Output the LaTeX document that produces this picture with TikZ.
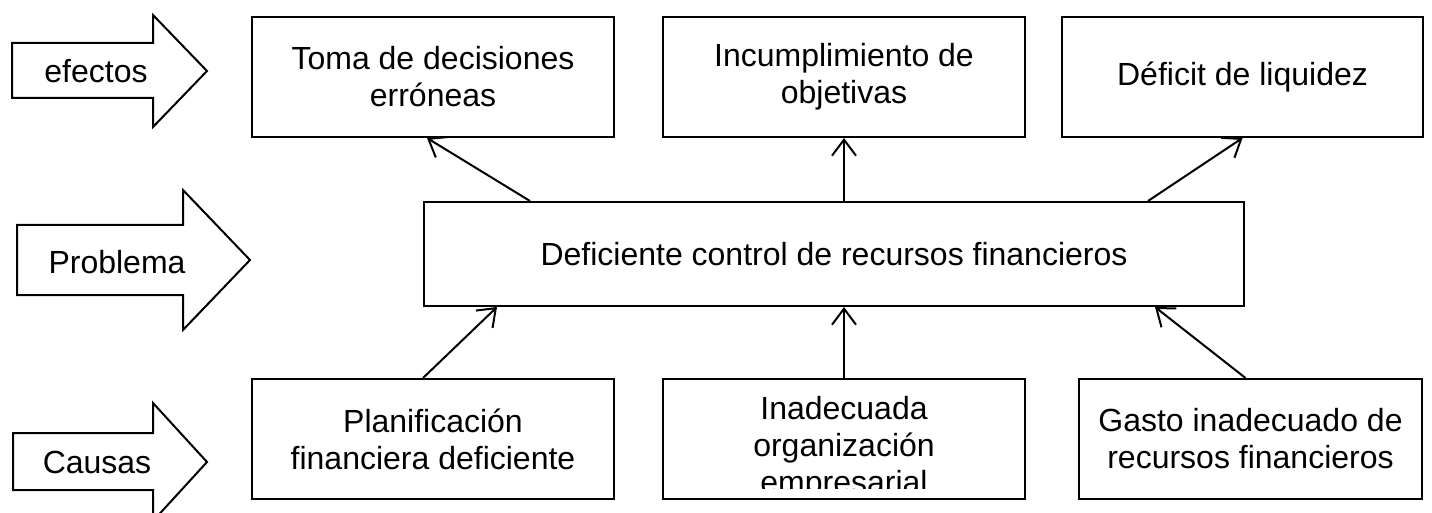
\documentclass[tikz,border=0pt]{standalone}
\usepackage{fontspec}
\setmainfont{Liberation Sans}
\usetikzlibrary{arrows.meta}

\begin{document}
\begin{tikzpicture} [
        x = 1pt, y = -1pt,
        every node/.style = {font=\fontsize{32}{37}\selectfont, align=center},
        box/.style = {draw, line width=2pt, minimum width=#1,
                     minimum height=120pt},
        arr/.style = {line width=2pt, -{Straight Barb[length=16pt,width=24pt]}},
        bigarrow/.style = {draw, line width=2pt, line join=miter}
    ]
    \useasboundingbox (0,0) rectangle (1432,513);

    % left side arrows
    \draw[bigarrow] (12,43) -- (153,43) -- (153,15) -- (207,71) -- (153,127)
        -- (153,98) -- (12,98) -- cycle;
    \node (efectos) at (96,71) {efectos};
    \draw[bigarrow] (17,225) -- (183,225) -- (183,190) -- (250,260) -- (183,330)
        -- (183,295) -- (17,295) -- cycle;
    \node (problema) at (117,262) {Problema};
    \draw[bigarrow] (13,433) -- (153,433) -- (153,403) -- (207,462) -- (153,521)
        -- (153,490) -- (13,490) -- cycle;
    \node (causas) at (97,462) {Causas};

    % efectos
    \node[box=362pt] (toma) at (433,77) {Toma de decisiones\\erróneas};
    \node[box=362pt] (incum) at (844,77) {Incumplimiento de\\objetivas};
    \node[box=361pt] (deficit) at (1242.5,77) {Déficit de liquidez};

    % problema
    \node[box=820pt, minimum height=104pt] (control) at (834,254)
        {Deficiente control de recursos financieros};

    % causas
    \node[box=362pt] (plan) at (433,439) {Planificación\\financiera deficiente};
    \node[box=362pt] (orga) at (844,439) {};
    \begin{scope}
        \clip (665,381) rectangle (1023,488);
        \node (orgatxt) at (844,448) {Inadecuada\\organización\\empresarial};
    \end{scope}
    \node[box=343pt] (gasto) at (1250.5,439) {Gasto inadecuado de\\recursos financieros};

    % connectors
    \draw[arr] ([xshift=-304pt]control.north) -- ([xshift=-6pt]toma.south);
    \draw[arr] (incum.south |- control.north) -- (incum.south);
    \draw[arr] ([xshift=314pt]control.north) -- (deficit.south);
    \draw[arr] ([xshift=-10pt]plan.north) -- ([xshift=-337pt]control.south);
    \draw[arr] (orga.north) -- (orga.north |- control.south);
    \draw[arr] ([xshift=-5pt]gasto.north) -- ([xshift=321pt]control.south);
\end{tikzpicture}
\end{document}
